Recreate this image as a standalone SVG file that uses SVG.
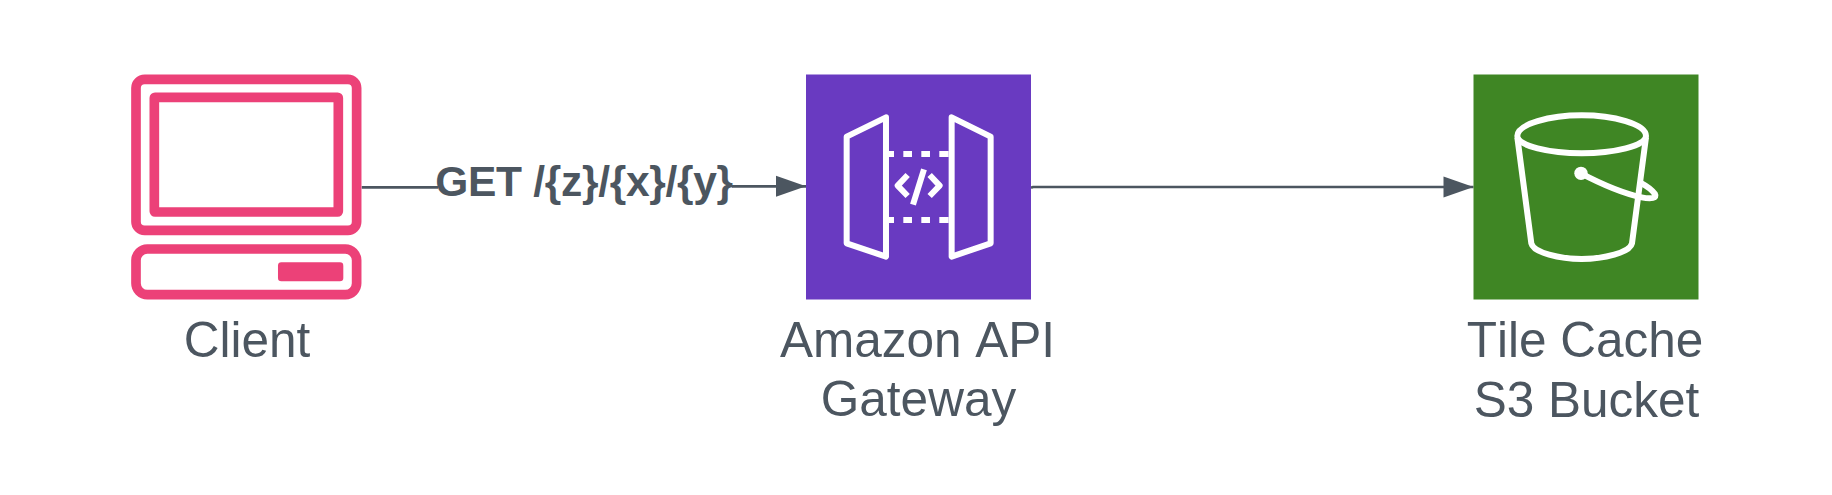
<svg xmlns="http://www.w3.org/2000/svg" width="1832" height="495" viewBox="0 0 1832 495">
<style>
text{font-family:"Liberation Sans",Arial,sans-serif;fill:#4c5660;text-anchor:middle;font-kerning:none}
.name{font-size:49.5px}
.edge{font-size:42.5px;font-weight:bold;letter-spacing:-.3px}
.conn{fill:none;stroke:#4c5660;stroke-width:2.7}
.pink{fill:none;stroke:#ec4178;stroke-width:29;stroke-linejoin:round}
.ico{fill:none;stroke:#fff;stroke-width:18;stroke-linejoin:round;stroke-linecap:butt}
</style>
<defs>
<marker id="arrow" markerUnits="userSpaceOnUse" markerWidth="32" markerHeight="22" refX="31" refY="11" orient="auto" viewBox="0 0 32 22"><path d="M1 0.5L31 11L1 21.5Z" fill="#4c5660"/></marker>
</defs>
<rect width="1832" height="495" fill="#fff"/>
<g id="connectors">
<path class="conn" d="M361.7 187.3H438"/>
<path class="conn" d="M732 186.3H806" marker-end="url(#arrow)"/>
<path class="conn" d="M1031 187.800L1033 187H1473.500" marker-end="url(#arrow)"/>
<text class="edge" x="584" y="196">GET /{z}/{x}/{y}</text>
</g>
<g id="client">
<g transform="translate(100 50) scale(.3333)">
<rect class="pink" x="108" y="88" width="662" height="453" rx="26"/>
<rect class="pink" x="163" y="142" width="552" height="344" rx="2"/>
<rect class="pink" x="108" y="597" width="662" height="137" rx="34"/>
<rect x="534" y="637" width="196" height="57" rx="10" fill="#ec4178"/>
</g>
<text class="name" x="247" y="356.500">Client</text>
</g>
<g id="api-gateway">
<rect x="806" y="74.500" width="225" height="225" fill="#693ac1"/>
<g transform="translate(790 60) scale(.3333)">
<path class="ico" d="M288 172L170 230V550L288 590Z"/>
<path class="ico" d="M485 172L602 230V550L485 590Z"/>
<path class="ico" d="M296 282H312M340 282H366M394 282H420M448 282H476M296 480H312M340 480H366M394 480H420M448 480H476"/>
<path class="ico" d="M353 345L323 377L353 408M419 345L449 377L419 408M402 328L369 434" stroke-width="21" stroke-linejoin="miter"/>
</g>
<text class="name" x="917.500" y="356.500">Amazon API</text>
<text class="name" x="918.500" y="415.500">Gateway</text>
</g>
<g id="tile-cache">
<rect x="1473.500" y="74.500" width="225" height="225" fill="#3f8624"/>
<g transform="translate(1460 60) scale(.3333)">
<path class="ico" d="M172 228C172 192 270 166 365 166C460 166 558 192 558 228C558 258 460 280 365 280C270 280 172 258 172 228Z"/>
<path class="ico" d="M172 232L214 550C220 578 300 597 365 597C430 597 510 578 516 550L558 232"/>
<circle cx="363" cy="340" r="20" fill="#fff"/>
<path class="ico" d="M363 340C420 370 490 400 545 412C575 418 592 414 585 402C578 392 560 378 545 370" stroke-width="14"/>
</g>
<text class="name" x="1585" y="356.500">Tile Cache</text>
<text class="name" x="1586.500" y="416.500">S3 Bucket</text>
</g>
</svg>
